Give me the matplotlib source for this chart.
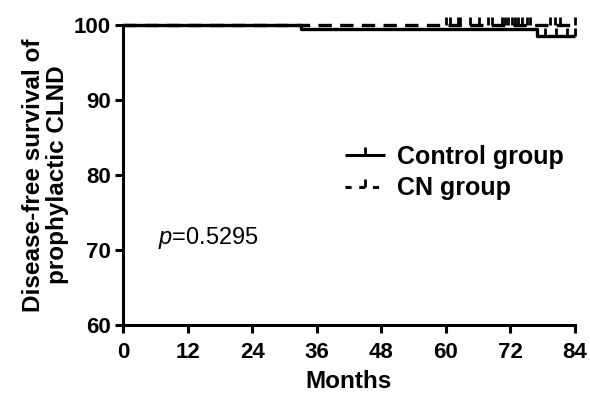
import matplotlib.pyplot as plt
from matplotlib.lines import Line2D

# Kaplan-Meier steps
control_t = [0, 33, 33, 77, 77, 84]
control_s = [100, 100, 99.5, 99.5, 98.5, 98.5]
control_cens_t = [78.5, 80.5, 82.5, 84]
control_cens_s = [98.5, 98.5, 98.5, 98.5]

cn_t = [0, 84]
cn_s = [100, 100]
cn_cens_t = [60, 60.8, 62.2, 62.7, 64.5, 66.2, 67.8, 68.6, 70.4, 71.0, 71.6,
             72.3, 72.9, 73.5, 74.2, 75.1, 75.7, 79.4, 80.3, 81.2, 84]
cn_cens_s = [100] * len(cn_cens_t)

xticks = [0, 12, 24, 36, 48, 60, 72, 84]
yticks = [60, 70, 80, 90, 100]

plt.rcParams['font.family'] = ['Liberation Sans', 'DejaVu Sans']
plt.rcParams['mathtext.fontset'] = 'custom'
plt.rcParams['mathtext.it'] = 'Liberation Sans:italic'
plt.rcParams['mathtext.rm'] = 'Liberation Sans'

fig = plt.figure(figsize=(5.9, 3.93), dpi=100)
ax = fig.add_axes([0.2085, 0.173, 0.766, 0.7634])

ax.plot(control_t, control_s, color='black', lw=2.4, solid_capstyle='butt', clip_on=False)
ax.plot(control_cens_t, control_cens_s, ls='none', marker=2, ms=6, mew=2, color='black', clip_on=False)
ax.plot(cn_t, cn_s, color='black', lw=2.4, dashes=(4, 2.5), clip_on=False)
ax.plot(cn_cens_t, cn_cens_s, ls='none', marker=2, ms=6, mew=2, color='black', clip_on=False)

ax.set_xlim(0, 84)
ax.set_ylim(60, 100)
ax.set_xticks(xticks)
ax.set_yticks(yticks)
for s in ['top', 'right']:
    ax.spines[s].set_visible(False)
for s in ['left', 'bottom']:
    ax.spines[s].set_linewidth(2.2)
ax.tick_params(width=2.2, length=6, labelsize=16, pad=3)
ax.tick_params(axis='x', pad=6)
for lab in ax.get_xticklabels() + ax.get_yticklabels():
    lab.set_fontweight('bold')

ax.set_xlabel('Months', fontsize=17.5, fontweight='bold', labelpad=5)
ax.set_ylabel('Disease-free survival of\nprophylactic CLND', fontsize=17.5,
              fontweight='bold', labelpad=3, linespacing=1.05)

handles = [
    Line2D([0], [0], color='black', lw=2.2, marker=2, ms=6, mew=2,
           solid_capstyle='butt'),
    Line2D([0], [0], color='black', lw=2.2, dashes=(2, 2.5), marker=2, ms=6, mew=2),
]
leg = ax.legend(handles, ['Control group', 'CN group'], loc='center left',
                bbox_to_anchor=(0.491, 0.508), frameon=False, handlelength=1.6,
                numpoints=1, prop={'size': 18, 'weight': 'bold'},
                labelspacing=0.3, handletextpad=0.5, borderpad=0, borderaxespad=0)

ax.text(6.5, 71.6, r'$p$=0.5295', fontsize=17, va='center')

fig.savefig('out.png', dpi=100)
